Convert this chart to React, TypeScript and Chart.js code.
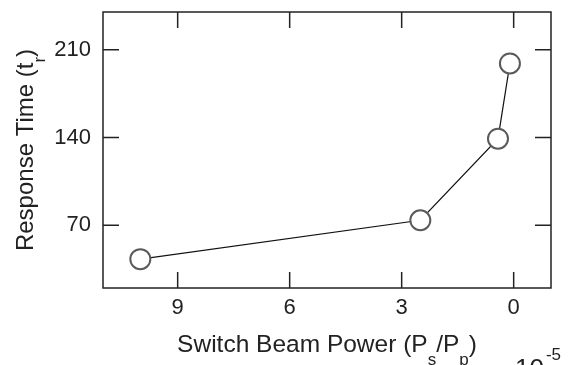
import React, { useEffect, useRef } from 'react';
import { Chart, registerables } from 'chart.js';

Chart.register(...registerables);

// Data (x in units of 10^-5)
const switchBeamPower = [10.0, 2.5, 0.42, 0.1];
const responseTime = [43, 74, 139, 199];
const xTickValues = [9, 6, 3, 0];
const yTickValues = [70, 140, 210];

const FONT = '"Liberation Sans", Arial, Helvetica, sans-serif';
const INK = '#222';

type Seg = { text: string; sub?: boolean; sup?: boolean };

const xTitleSegs: Seg[] = [
  { text: 'Switch Beam Power (P' },
  { text: 's', sub: true },
  { text: '/P' },
  { text: 'p', sub: true },
  { text: ')' },
];
const yTitleSegs: Seg[] = [
  { text: 'Response Time (t' },
  { text: 'r', sub: true },
  { text: ')' },
];

function drawSegs(ctx: CanvasRenderingContext2D, segs: Seg[], cx: number, baseline: number, mainSize: number, subSize: number, subOff: number) {
  const mainFont = `${mainSize}px ${FONT}`;
  const subFont = `${subSize}px ${FONT}`;
  let total = 0;
  const widths = segs.map((s) => {
    ctx.font = s.sub || s.sup ? subFont : mainFont;
    const w = ctx.measureText(s.text).width;
    total += w;
    return w;
  });
  let x = cx - total / 2;
  ctx.textAlign = 'left';
  ctx.textBaseline = 'alphabetic';
  segs.forEach((s, i) => {
    ctx.font = s.sub || s.sup ? subFont : mainFont;
    const y = s.sub ? baseline + subOff : s.sup ? baseline - subOff : baseline;
    ctx.fillText(s.text, x, y);
    x += widths[i];
  });
}

const framePlugin = {
  id: 'framePlugin',
  afterDraw(chart: any) {
    const { ctx, chartArea } = chart;
    const { left, right, top, bottom } = chartArea;
    const xs = chart.scales.x;
    const ys = chart.scales.y;
    ctx.save();
    ctx.strokeStyle = INK;
    ctx.lineWidth = 1.5;
    ctx.strokeRect(left, top, right - left, bottom - top);
    const tl = 16;
    ctx.beginPath();
    xTickValues.forEach((v) => {
      const px = xs.getPixelForValue(v);
      ctx.moveTo(px, bottom);
      ctx.lineTo(px, bottom - tl);
      ctx.moveTo(px, top);
      ctx.lineTo(px, top + tl);
    });
    yTickValues.forEach((v) => {
      const py = ys.getPixelForValue(v);
      ctx.moveTo(left, py);
      ctx.lineTo(left + tl, py);
      ctx.moveTo(right, py);
      ctx.lineTo(right - tl, py);
    });
    ctx.stroke();

    ctx.fillStyle = INK;
    // x title
    drawSegs(ctx, xTitleSegs, (left + right) / 2, 352, 24.5, 17, 13);
    // y title (rotated)
    ctx.save();
    ctx.translate(33, (top + bottom) / 2);
    ctx.rotate(-Math.PI / 2);
    drawSegs(ctx, yTitleSegs, 0, 0, 24, 17, 12);
    ctx.restore();
    // 10^-5 multiplier
    ctx.textAlign = 'left';
    ctx.textBaseline = 'alphabetic';
    ctx.font = `26px ${FONT}`;
    ctx.fillText('10', 515, 377);
    const w10 = ctx.measureText('10').width;
    ctx.font = `17px ${FONT}`;
    ctx.fillText('-5', 515 + w10 + 2, 360);
    ctx.restore();
  },
};

export default function App() {
  const ref = useRef<HTMLCanvasElement | null>(null);
  useEffect(() => {
    if (!ref.current) return;
    const chart = new Chart(ref.current, {
      type: 'line',
      data: {
        datasets: [
          {
            data: switchBeamPower.map((x, i) => ({ x, y: responseTime[i] })),
            borderColor: '#111',
            borderWidth: 1.2,
            pointRadius: 10,
            pointHoverRadius: 10,
            pointBackgroundColor: '#fff',
            pointBorderColor: '#5a5a5a',
            pointBorderWidth: 2,
            tension: 0,
            fill: false,
          },
        ],
      },
      options: {
        responsive: false,
        animation: false,
        devicePixelRatio: 1,
        layout: { padding: { left: 0, right: 23, top: 12, bottom: 0 } },
        plugins: { legend: { display: false }, tooltip: { enabled: false }, title: { display: false } },
        scales: {
          x: {
            type: 'linear',
            min: -1,
            max: 11,
            reverse: true,
            grid: { display: false, drawTicks: false },
            border: { display: false },
            afterBuildTicks: (s: any) => {
              s.ticks = xTickValues.map((v) => ({ value: v }));
            },
            afterFit: (s: any) => {
              s.height = 77;
              s.paddingLeft = 0;
              s.paddingRight = 0;
            },
            ticks: { padding: 7, color: INK, font: { family: FONT, size: 22 }, maxRotation: 0 },
          },
          y: {
            type: 'linear',
            min: 20,
            max: 240,
            grid: { display: false, drawTicks: false },
            border: { display: false },
            afterBuildTicks: (s: any) => {
              s.ticks = yTickValues.map((v) => ({ value: v }));
            },
            afterFit: (s: any) => {
              s.width = 103;
              s.paddingTop = 0;
              s.paddingBottom = 0;
            },
            ticks: { padding: 12, color: INK, font: { family: FONT, size: 22 } },
          },
        },
      },
      plugins: [framePlugin],
    });
    return () => chart.destroy();
  }, []);
  return (
    <div style={{ position: 'fixed', left: 0, top: 0, width: 574, height: 365, background: '#fff' }}>
      <canvas ref={ref} width={574} height={365} style={{ display: 'block' }} />
    </div>
  );
}
